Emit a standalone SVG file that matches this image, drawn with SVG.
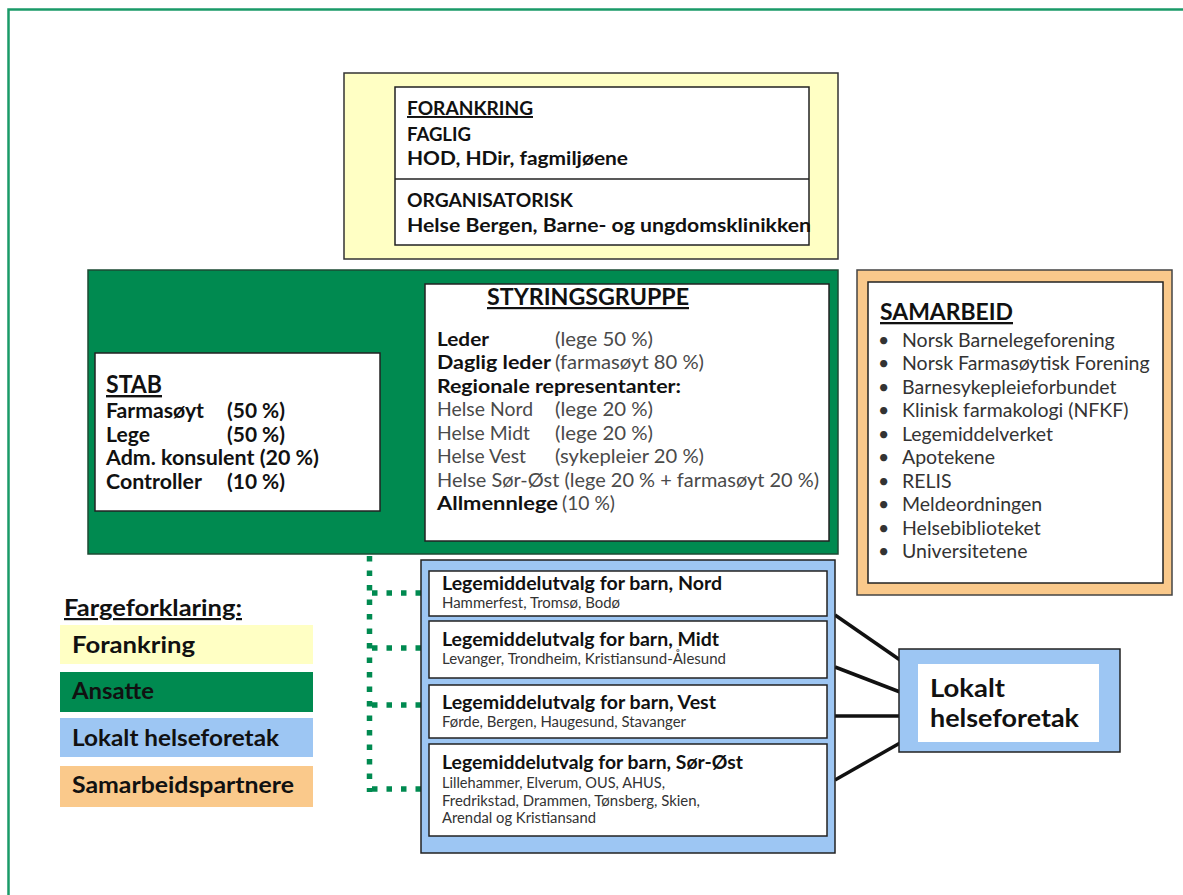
<svg xmlns="http://www.w3.org/2000/svg" width="1183" height="895" viewBox="0 0 1183 895">
<style>
text{font-family:Lato,"Open Sans","Liberation Sans",sans-serif;fill:#111}
.b{font-weight:bold}
.u{text-decoration:underline}
.g{fill:#4a4a4a}
.box{fill:#fff;stroke:#222;stroke-width:1.5}
.f{font-size:19.5px;font-weight:bold}
.st{font-size:20px;font-weight:bold}
.sg{font-size:19px}
.sm{font-size:19.5px;fill:#333}
.lg{font-size:22px;font-weight:bold}
.t{font-size:18px;font-weight:bold}
.s{font-size:14.5px;fill:#333}
</style>
<rect width="1183" height="895" fill="#fff"/>
<path d="M8.5 895 V9.5 H1183" fill="none" stroke="#1a9a68" stroke-width="2.5"/>

<g id="forankring">
<rect x="344" y="73" width="494" height="186" fill="#ffffc4" stroke="#333" stroke-width="1.5"/>
<rect x="395" y="87" width="414" height="158" class="box"/>
<line x1="395" y1="179" x2="809" y2="179" stroke="#222" stroke-width="1.5"/>
<text x="407" y="115" class="f u" textLength="126" lengthAdjust="spacingAndGlyphs">FORANKRING</text>
<text x="407" y="141" class="f" textLength="64" lengthAdjust="spacingAndGlyphs">FAGLIG</text>
<text x="407" y="165" class="f" textLength="221" lengthAdjust="spacingAndGlyphs">HOD, HDir, fagmiljøene</text>
<text x="407" y="207" class="f" textLength="166" lengthAdjust="spacingAndGlyphs">ORGANISATORISK</text>
<text x="407" y="232" class="f" textLength="404" lengthAdjust="spacingAndGlyphs">Helse Bergen, Barne- og ungdomsklinikken</text>
</g>

<g id="ansatte">
<rect x="88" y="270" width="750" height="284" fill="#008a50" stroke="#1d4a33" stroke-width="1.5"/>
</g>

<g id="stab">
<rect x="95" y="353" width="285" height="158" class="box"/>
<text x="106" y="393" class="b u" font-size="24" textLength="56" lengthAdjust="spacingAndGlyphs">STAB</text>
<text x="106" y="418" class="st" textLength="98" lengthAdjust="spacingAndGlyphs">Farmasøyt</text><text x="227" y="418" class="st" textLength="58" lengthAdjust="spacingAndGlyphs">(50 %)</text>
<text x="106" y="442" class="st" textLength="44" lengthAdjust="spacingAndGlyphs">Lege</text><text x="227" y="442" class="st" textLength="58" lengthAdjust="spacingAndGlyphs">(50 %)</text>
<text x="106" y="465" class="st" textLength="213" lengthAdjust="spacingAndGlyphs">Adm. konsulent (20 %)</text>
<text x="106" y="489" class="st" textLength="96" lengthAdjust="spacingAndGlyphs">Controller</text><text x="227" y="489" class="st" textLength="58" lengthAdjust="spacingAndGlyphs">(10 %)</text>
</g>

<g id="styringsgruppe">
<rect x="425" y="284" width="404" height="257" class="box"/>
<text x="487" y="305" class="b u" font-size="22" textLength="202" lengthAdjust="spacingAndGlyphs">STYRINGSGRUPPE</text>
<text x="437" y="346" class="sg b" textLength="52" lengthAdjust="spacingAndGlyphs">Leder</text><text x="555" y="346" class="sg g" textLength="98" lengthAdjust="spacingAndGlyphs">(lege 50 %)</text>
<text x="437" y="369" class="sg b" textLength="114" lengthAdjust="spacingAndGlyphs">Daglig leder</text><text x="555" y="369" class="sg g" textLength="149" lengthAdjust="spacingAndGlyphs">(farmasøyt 80 %)</text>
<text x="437" y="393" class="sg b" textLength="244" lengthAdjust="spacingAndGlyphs">Regionale representanter:</text>
<text x="437" y="416" class="sg g" textLength="96" lengthAdjust="spacingAndGlyphs">Helse Nord</text><text x="555" y="416" class="sg g" textLength="98" lengthAdjust="spacingAndGlyphs">(lege 20 %)</text>
<text x="437" y="440" class="sg g" textLength="93" lengthAdjust="spacingAndGlyphs">Helse Midt</text><text x="555" y="440" class="sg g" textLength="98" lengthAdjust="spacingAndGlyphs">(lege 20 %)</text>
<text x="437" y="463" class="sg g" textLength="89" lengthAdjust="spacingAndGlyphs">Helse Vest</text><text x="555" y="463" class="sg g" textLength="149" lengthAdjust="spacingAndGlyphs">(sykepleier 20 %)</text>
<text x="437" y="487" class="sg g" textLength="382" lengthAdjust="spacingAndGlyphs">Helse Sør-Øst (lege 20 % + farmasøyt 20 %)</text>
<text x="437" y="510" class="sg b" textLength="121" lengthAdjust="spacingAndGlyphs">Allmennlege</text><text x="562" y="510" class="sg g" textLength="53" lengthAdjust="spacingAndGlyphs">(10 %)</text>
</g>

<g id="samarbeid">
<rect x="857" y="270" width="315" height="325" fill="#fac98b" stroke="#444" stroke-width="1.5"/>
<rect x="868" y="282" width="295" height="301" class="box"/>
<text x="880" y="320" class="b u" font-size="23" textLength="133" lengthAdjust="spacingAndGlyphs">SAMARBEID</text>
<text x="878" y="347" class="sm">•</text><text x="902" y="347" class="sm">Norsk Barnelegeforening</text>
<text x="878" y="370" class="sm">•</text><text x="902" y="370" class="sm">Norsk Farmasøytisk Forening</text>
<text x="878" y="394" class="sm">•</text><text x="902" y="394" class="sm">Barnesykepleieforbundet</text>
<text x="878" y="417" class="sm">•</text><text x="902" y="417" class="sm">Klinisk farmakologi (NFKF)</text>
<text x="878" y="441" class="sm">•</text><text x="902" y="441" class="sm">Legemiddelverket</text>
<text x="878" y="464" class="sm">•</text><text x="902" y="464" class="sm">Apotekene</text>
<text x="878" y="488" class="sm">•</text><text x="902" y="488" class="sm">RELIS</text>
<text x="878" y="511" class="sm">•</text><text x="902" y="511" class="sm">Meldeordningen</text>
<text x="878" y="535" class="sm">•</text><text x="902" y="535" class="sm">Helsebiblioteket</text>
<text x="878" y="558" class="sm">•</text><text x="902" y="558" class="sm">Universitetene</text>
</g>

<g id="legend">
<text x="64" y="616" class="b u" font-size="22" textLength="178" lengthAdjust="spacingAndGlyphs">Fargeforklaring:</text>
<rect x="60" y="625" width="253" height="39" fill="#ffffc4"/>
<text x="72" y="653" class="lg" textLength="123" lengthAdjust="spacingAndGlyphs">Forankring</text>
<rect x="60" y="672" width="253" height="40" fill="#008a50"/>
<text x="72" y="699" class="lg" textLength="82" lengthAdjust="spacingAndGlyphs">Ansatte</text>
<rect x="60" y="718" width="253" height="39" fill="#9dc6f3"/>
<text x="72" y="746" class="lg" textLength="207" lengthAdjust="spacingAndGlyphs">Lokalt helseforetak</text>
<rect x="60" y="766" width="253" height="41" fill="#fac98b"/>
<text x="72" y="793" class="lg" textLength="222" lengthAdjust="spacingAndGlyphs">Samarbeidspartnere</text>
</g>

<g id="connectors">
<g fill="none" stroke="#008a50" stroke-width="5.5">
<path d="M369.5 556 V792" stroke-dasharray="5.5 9"/>
<path d="M372 593 H421" stroke-dasharray="5.5 9"/>
<path d="M372 648 H421" stroke-dasharray="5.5 9"/>
<path d="M372 705 H421" stroke-dasharray="5.5 9"/>
<path d="M372 789 H421" stroke-dasharray="5.5 9"/>
</g>
<g stroke="#111" stroke-width="3.5">
<line x1="835" y1="615" x2="900" y2="660"/>
<line x1="835" y1="667" x2="900" y2="692"/>
<line x1="835" y1="716" x2="900" y2="716"/>
<line x1="835" y1="780" x2="900" y2="743"/>
</g>
</g>

<g id="regioner">
<rect x="421" y="560" width="414" height="293" fill="#9dc6f3" stroke="#222" stroke-width="1.5"/>
<g id="nord">
<rect x="429" y="571" width="398" height="45" class="box"/>
<text x="442" y="590" class="t" textLength="280" lengthAdjust="spacingAndGlyphs">Legemiddelutvalg for barn, Nord</text>
<text x="442" y="608" class="s" textLength="178" lengthAdjust="spacingAndGlyphs">Hammerfest, Tromsø, Bodø</text>
</g>
<g id="midt">
<rect x="429" y="621" width="398" height="57" class="box"/>
<text x="442" y="646" class="t" textLength="277" lengthAdjust="spacingAndGlyphs">Legemiddelutvalg for barn, Midt</text>
<text x="442" y="664" class="s" textLength="284" lengthAdjust="spacingAndGlyphs">Levanger, Trondheim, Kristiansund-Ålesund</text>
</g>
<g id="vest">
<rect x="429" y="685" width="398" height="53" class="box"/>
<text x="442" y="709" class="t" textLength="274" lengthAdjust="spacingAndGlyphs">Legemiddelutvalg for barn, Vest</text>
<text x="442" y="727" class="s" textLength="244" lengthAdjust="spacingAndGlyphs">Førde, Bergen,  Haugesund, Stavanger</text>
</g>
<g id="sorost">
<rect x="429" y="744" width="398" height="92" class="box"/>
<text x="442" y="769" class="t" textLength="301" lengthAdjust="spacingAndGlyphs">Legemiddelutvalg for barn, Sør-Øst</text>
<text x="442" y="788" class="s" textLength="223" lengthAdjust="spacingAndGlyphs">Lillehammer, Elverum, OUS, AHUS,</text>
<text x="442" y="806" class="s" textLength="258" lengthAdjust="spacingAndGlyphs">Fredrikstad,  Drammen, Tønsberg, Skien,</text>
<text x="442" y="823" class="s" textLength="154" lengthAdjust="spacingAndGlyphs">Arendal og Kristiansand</text>
</g>
</g>

<g id="lokalt">
<rect x="899" y="649" width="221" height="103" fill="#9dc6f3" stroke="#222" stroke-width="1.5"/>
<rect x="918" y="664" width="181" height="78" fill="#fff"/>
<text x="930" y="697" class="b" font-size="25" textLength="75" lengthAdjust="spacingAndGlyphs">Lokalt</text>
<text x="930" y="727" class="b" font-size="25" textLength="149" lengthAdjust="spacingAndGlyphs">helseforetak</text>
</g>
</svg>
